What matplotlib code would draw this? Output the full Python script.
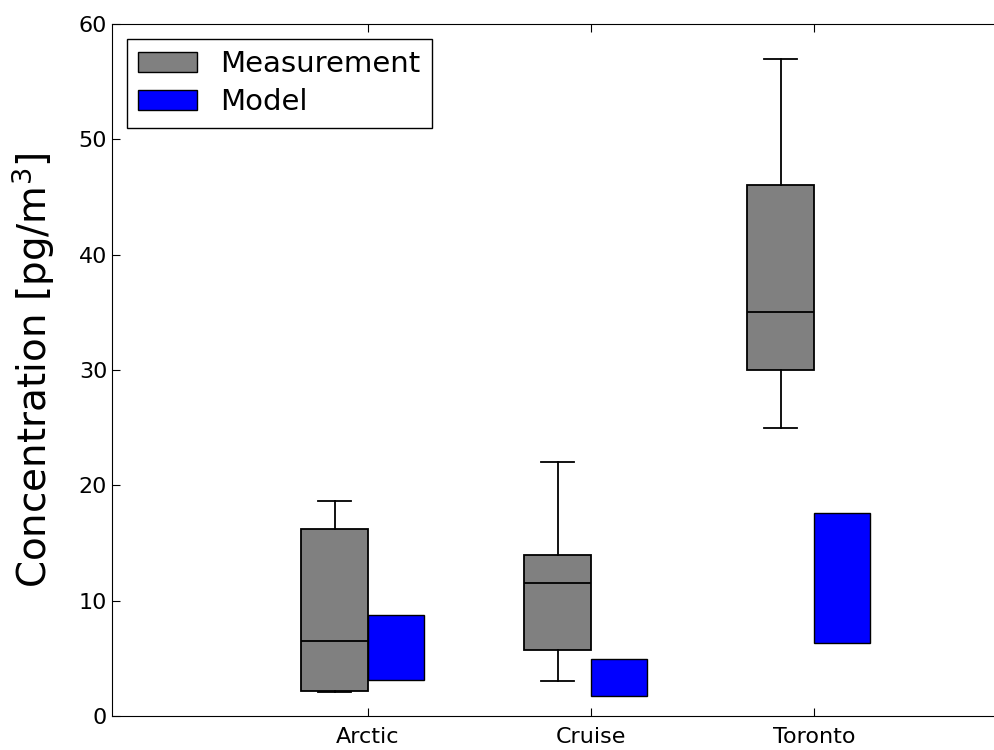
import matplotlib
matplotlib.use("Agg")
import matplotlib.pyplot as plt
from matplotlib.patches import Patch

# Sites and box statistics for the measured concentrations (pg/m^3)
sites = ["Arctic", "Cruise", "Toronto"]
meas_whislo = [2.1, 3.0, 25.0]
meas_q1 = [2.2, 5.7, 30.0]
meas_med = [6.5, 11.5, 35.0]
meas_q3 = [16.2, 14.0, 46.0]
meas_whishi = [18.6, 22.0, 57.0]

# Model range (min to max) at each site
model_lo = [3.1, 1.7, 6.3]
model_hi = [8.8, 4.9, 17.6]

positions = [1, 2, 3]
box_w = 0.3
bar_w = 0.25

W, H = 994, 750
fig = plt.figure(figsize=(W / 100, H / 100), dpi=100)
# right edge runs slightly past the canvas so the right spine is not shown
ax = fig.add_axes([112 / W, 1 - 716 / H, 892 / W, 692 / H])

stats = []
for i in range(len(sites)):
    stats.append(dict(whislo=meas_whislo[i], q1=meas_q1[i], med=meas_med[i],
                      q3=meas_q3[i], whishi=meas_whishi[i], fliers=[]))

ax.bxp(stats, positions=[p - box_w / 2 for p in positions], widths=box_w,
       patch_artist=True, showfliers=False,
       boxprops=dict(facecolor="#808080", edgecolor="black", linewidth=1.3),
       medianprops=dict(color="black", linewidth=1.3),
       whiskerprops=dict(color="black", linewidth=1.3, linestyle="-"),
       capprops=dict(color="black", linewidth=1.3),
       manage_ticks=False)

ax.bar(positions, [h - l for h, l in zip(model_hi, model_lo)], bottom=model_lo,
       width=bar_w, align="edge", color="blue", edgecolor="black", linewidth=1.0)

ax.set_xlim(1 - 256 / 223, 1 + 636 / 223)
ax.set_ylim(0, 60)
ax.set_xticks(positions)
ax.set_xticklabels(sites, fontsize=16)
ax.set_yticks(range(0, 61, 10))
ax.tick_params(axis="y", labelsize=16)
ax.tick_params(direction="in", top=True, right=True, length=6, width=0.8)
ax.tick_params(axis="x", pad=8)
ax.set_ylabel("Concentration [pg/m$^3$]", fontsize=28)
ax.yaxis.set_label_coords(-0.062, 0.5)

handles = [Patch(facecolor="#808080", edgecolor="black", label="Measurement"),
           Patch(facecolor="blue", edgecolor="black", label="Model")]
leg = ax.legend(handles=handles, loc="upper left", fontsize=21, fancybox=False,
                framealpha=1, edgecolor="black", handlelength=2.0,
                borderpad=0.4, labelspacing=0.35, handletextpad=0.8,
                borderaxespad=0.5)
leg.get_frame().set_linewidth(1.0)

fig.savefig("out.png", dpi=100)
